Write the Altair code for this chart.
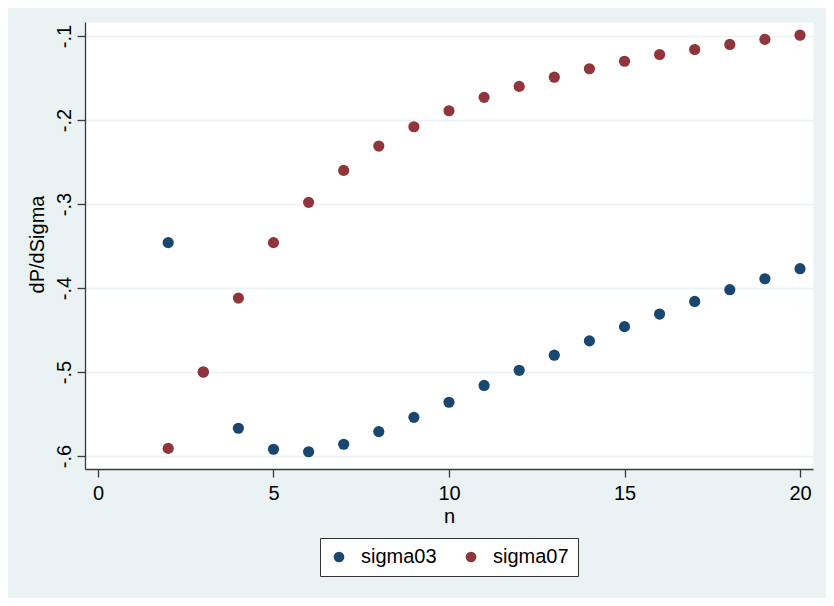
import altair as alt
import pandas as pd

# Data
n_values = list(range(2, 21))
sigma03 = [-0.346, -0.500, -0.567, -0.592, -0.595, -0.586, -0.571, -0.554, -0.536,
           -0.516, -0.498, -0.480, -0.463, -0.446, -0.431, -0.416, -0.402, -0.389, -0.377]
sigma07 = [-0.591, -0.500, -0.412, -0.346, -0.298, -0.260, -0.231, -0.208, -0.189,
           -0.173, -0.160, -0.149, -0.139, -0.130, -0.122, -0.116, -0.110, -0.104, -0.099]
series_names = ["sigma03", "sigma07"]
series_colors = ["#1A476F", "#90353B"]
x_ticks = [0, 5, 10, 15, 20]
y_ticks = [-0.6, -0.5, -0.4, -0.3, -0.2, -0.1]

rows = []
for name, vals in zip(series_names, [sigma03, sigma07]):
    for n, v in zip(n_values, vals):
        rows.append({"n": n, "value": v, "series": name})
df = pd.DataFrame(rows)

FONT = "Liberation Sans"
AXIS_COLOR = "#3a3a3a"

chart = alt.Chart(df).mark_circle(size=125, opacity=1).encode(
    x=alt.X(
        "n:Q",
        scale=alt.Scale(domain=[-0.37, 20.37], nice=False, zero=False),
        axis=alt.Axis(
            values=x_ticks, grid=False, title="n", format="d",
            labelFont=FONT, labelFontSize=20, labelColor="black",
            labelBaseline="alphabetic", labelPadding=22, labelFlush=False,
            tickSize=8, tickColor=AXIS_COLOR, tickWidth=1.3,
            domainColor=AXIS_COLOR, domainWidth=1.3,
            titleFont=FONT, titleFontSize=20, titleFontWeight="normal",
            titleColor="black", titleBaseline="alphabetic", titleY=53,
        ),
    ),
    y=alt.Y(
        "value:Q",
        scale=alt.Scale(domain=[-0.6155, -0.0833], nice=False, zero=False),
        axis=alt.Axis(
            values=y_ticks, grid=True, gridColor="#EAF2F3", gridWidth=1.6,
            title="dP/dSigma",
            labelExpr="'-.' + format(abs(datum.value) * 10, '.0f')",
            labelFont=FONT, labelFontSize=20, labelColor="black",
            labelAngle=270, labelAlign="center", labelBaseline="alphabetic",
            labelPadding=6.5, labelFlush=False,
            tickSize=8, tickColor=AXIS_COLOR, tickWidth=1.3,
            domainColor=AXIS_COLOR, domainWidth=1.3,
            titleFont=FONT, titleFontSize=20, titleFontWeight="normal",
            titleColor="black", titleAngle=270, titleAlign="center",
            titleBaseline="alphabetic", titleX=-42, titleY=222,
        ),
    ),
    color=alt.Color(
        "series:N",
        scale=alt.Scale(domain=series_names, range=series_colors),
        legend=alt.Legend(
            title=None, orient="none", legendX=235, legendY=516,
            direction="horizontal", symbolType="circle", symbolSize=115,
            symbolStrokeWidth=0, symbolOpacity=1,
            labelFont=FONT, labelFontSize=20, labelColor="black",
            labelOffset=12, columnPadding=24, padding=9,
            fillColor="white", strokeColor="#333333",
        ),
    ),
    order=alt.Order("series:N", sort="ascending"),
).properties(
    width=728,
    height=447,
    padding={"left": 77, "top": 14, "right": 13, "bottom": 129},
    autosize=alt.AutoSizeParams(type="none"),
    background="#EAF2F3",
).configure_view(
    fill="white", stroke="transparent"
)

chart.save("out.html", embed_options={"renderer": "svg", "actions": False})
